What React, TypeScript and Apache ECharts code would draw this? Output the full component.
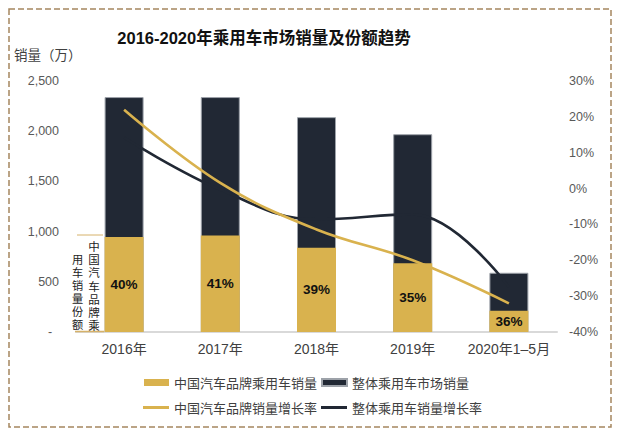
import React, { useEffect, useRef } from 'react';
import * as echarts from 'echarts';

const categories = ['2016年', '2017年', '2018年', '2019年', '2020年1–5月'];
const totalSales = [2340, 2340, 2140, 1970, 590];
const chinaBrandSales = [945, 960, 840, 685, 212];
const shareLabels = ['40%', '41%', '39%', '35%', '36%'];
const chinaBrandGrowth = [22, 1.6, -11.4, -20, -32];
const totalGrowth = [14.2, -0.3, -8.6, -7.2, -27.5];

const salesAxis = { min: 0, max: 2500, interval: 500 };
const growthAxis = { min: -40, max: 30, interval: 10 };

const seriesNames = {
  chinaSales: '中国汽车品牌乘用车销量',
  totalSales: '整体乘用车市场销量',
  chinaGrowth: '中国汽车品牌销量增长率',
  totalGrowth: '整体乘用车销量增长率',
};

const shareNoteRight = ['中', '国', '汽', '车', '品', '牌', '乘'];
const shareNoteLeft = ['用', '车', '销', '量', '份', '额'];

const FONT = '"Liberation Sans", Arial, "Noto Sans CJK SC", sans-serif';
const CJK = '"Noto Sans CJK SC", "Liberation Sans", sans-serif';
const GOLD = '#D9B24E';
const NAVY = '#212834';
const TEXT = '#404040';

export default function App() {
  const ref = useRef<HTMLDivElement>(null);

  useEffect(() => {
    document.body.style.margin = '0';
    if (!ref.current) return;
    const chart = echarts.init(ref.current, null, { renderer: 'svg' });
    const option: any = {
      animation: false,
      backgroundColor: '#ffffff',
      textStyle: { fontFamily: FONT },
      grid: { left: 76, right: 61, top: 81, bottom: 106 },
      legend: [
        {
          left: 139,
          top: 371,
          itemWidth: 25,
          itemHeight: 7,
          itemGap: 4,
          icon: 'rect',
          textStyle: { color: TEXT, fontSize: 13, fontFamily: CJK },
          data: [seriesNames.chinaSales, seriesNames.totalSales],
        },
        {
          left: 138,
          top: 396,
          itemWidth: 26,
          itemHeight: 3,
          itemGap: 4,
          icon: 'rect',
          textStyle: { color: TEXT, fontSize: 13, fontFamily: CJK },
          data: [seriesNames.chinaGrowth, seriesNames.totalGrowth],
        },
      ],
      xAxis: {
        type: 'category',
        data: categories,
        axisLine: { show: true, lineStyle: { color: '#d9d9d9', width: 2 } },
        axisTick: { show: false },
        axisLabel: { color: TEXT, fontSize: 14, margin: 10, interval: 0, fontFamily: FONT },
        splitLine: { show: false },
      },
      yAxis: [
        {
          type: 'value',
          min: salesAxis.min,
          max: salesAxis.max,
          interval: salesAxis.interval,
          axisLine: { show: false },
          axisTick: { show: false },
          splitLine: { show: false },
          axisLabel: {
            color: '#595959',
            fontSize: 12.5,
            margin: 17,
            formatter: (v: number) => (v === 0 ? '-  ' : v.toLocaleString('en-US')),
          },
        },
        {
          type: 'value',
          min: growthAxis.min,
          max: growthAxis.max,
          interval: growthAxis.interval,
          axisLine: { show: false },
          axisTick: { show: false },
          splitLine: { show: false },
          axisLabel: {
            color: '#595959',
            fontSize: 12.5,
            margin: 12,
            formatter: (v: number) => `${v}%`,
          },
        },
      ],
      series: [
        {
          name: seriesNames.totalSales,
          type: 'bar',
          yAxisIndex: 0,
          data: totalSales,
          barWidth: 39,
          barGap: '-100%',
          itemStyle: { color: NAVY, borderColor: '#9da2a9', borderWidth: 1 },
          z: 2,
        },
        {
          name: seriesNames.chinaSales,
          type: 'bar',
          yAxisIndex: 0,
          data: chinaBrandSales,
          barWidth: 39,
          barGap: '-100%',
          itemStyle: { color: GOLD },
          label: {
            show: true,
            position: 'inside',
            color: '#111111',
            fontSize: 13.5,
            fontWeight: 'bold',
            fontFamily: FONT,
            formatter: (p: any) => shareLabels[p.dataIndex],
          },
          z: 3,
        },
        {
          name: seriesNames.totalGrowth,
          type: 'line',
          yAxisIndex: 1,
          data: totalGrowth,
          smooth: 0.4,
          symbol: 'none',
          lineStyle: { color: NAVY, width: 2.6 },
          itemStyle: { color: NAVY },
          z: 4,
        },
        {
          name: seriesNames.chinaGrowth,
          type: 'line',
          yAxisIndex: 1,
          data: chinaBrandGrowth,
          smooth: 0.4,
          symbol: 'none',
          lineStyle: { color: GOLD, width: 2.6 },
          itemStyle: { color: GOLD },
          z: 5,
        },
      ],
      graphic: [
        {
          type: 'rect',
          shape: { x: 9, y: 9, width: 602, height: 418 },
          style: { fill: 'none', stroke: '#a5865f', lineWidth: 1.5, lineDash: [6, 3] },
          silent: true,
          z: 0,
        },
        {
          type: 'text',
          x: 264,
          y: 38,
          style: {
            text: '2016-2020年乘用车市场销量及份额趋势',
            fontSize: 16.5,
            fontWeight: 'bold',
            fontFamily: FONT,
            fill: '#111111',
            textAlign: 'center',
            textVerticalAlign: 'middle',
          },
        },
        {
          type: 'text',
          x: 14,
          y: 54,
          style: {
            text: '销量（万）',
            fontSize: 13.5,
            fontFamily: CJK,
            fill: TEXT,
            textAlign: 'left',
            textVerticalAlign: 'middle',
          },
        },
        {
          type: 'line',
          shape: { x1: 77, y1: 235, x2: 103, y2: 235 },
          style: { stroke: '#d6b26a', lineWidth: 1 },
          z: 100,
        },
        {
          type: 'line',
          shape: { x1: 75, y1: 331.5, x2: 104, y2: 331.5 },
          style: { stroke: '#d6b26a', lineWidth: 1.5 },
          z: 100,
        },
        {
          type: 'text',
          x: 94,
          y: 240,
          style: {
            text: shareNoteRight.join('\n'),
            fontSize: 11.5,
            lineHeight: 13.3,
            fontFamily: FONT,
            fill: '#222222',
            textAlign: 'center',
            textVerticalAlign: 'top',
          },
          z: 100,
        },
        {
          type: 'text',
          x: 77.5,
          y: 253,
          style: {
            text: shareNoteLeft.join('\n'),
            fontSize: 11.2,
            lineHeight: 13,
            fontFamily: FONT,
            fill: '#222222',
            textAlign: 'center',
            textVerticalAlign: 'top',
          },
          z: 100,
        },
      ],
    };
    chart.setOption(option);
    return () => chart.dispose();
  }, []);

  return <div ref={ref} style={{ width: 618, height: 438 }} />;
}
